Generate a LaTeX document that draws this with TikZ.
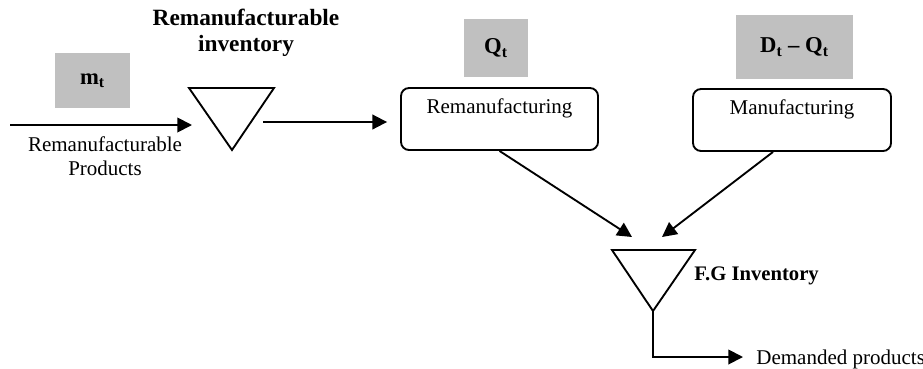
\documentclass[tikz,border=0pt]{standalone}
\usepackage{fontspec}
\setmainfont{Liberation Serif}
\usetikzlibrary{arrows.meta}
\definecolor{boxgray}{RGB}{192,192,192}

\begin{document}
\begin{tikzpicture}[x=0.75pt, y=-0.75pt, >={Triangle[length=11pt,width=11pt]}, line width=1.4pt,
  txt/.style={font=\fontsize{15.75}{18}\selectfont},
  bold/.style={font=\fontsize{17.5}{19.5}\selectfont\bfseries},
  varbox/.style={fill=boxgray, inner sep=0pt, font=\fontsize{17}{20}\selectfont\bfseries},
  procbox/.style={draw, rounded corners=6pt, minimum width=147.75pt, minimum height=46.5pt, align=center, txt}]

  \useasboundingbox (0,0) rectangle (923,368);

  % Variable boxes
  \node[varbox, minimum width=56.25pt, minimum height=41.25pt] (mt) at (92.5,80.5) {m\textsubscript{t}};
  \node[varbox, minimum width=48pt, minimum height=43.5pt] (qt) at (496,48) {Q\textsubscript{t}};
  \node[varbox, minimum width=87.75pt, minimum height=48pt] (dq) at (794.5,47) {D\textsubscript{t} – Q\textsubscript{t}};

  % Processes
  \node[procbox] (reman) at (499.5,119) {Remanufacturing\\[2pt] \mbox{}};
  \node[procbox, minimum width=148.5pt] (manu) at (792,120) {Manufacturing\\[2pt] \mbox{}};

  % Inventories
  \coordinate (ri1) at (189,88);
  \coordinate (ri2) at (274,88);
  \coordinate (ri3) at (232,150);
  \draw[line join=miter] (ri1) -- (ri2) -- (ri3) -- cycle;
  \coordinate (fg1) at (612,250);
  \coordinate (fg2) at (695,250);
  \coordinate (fg3) at (653,311);
  \draw[line join=miter] (fg1) -- (fg2) -- (fg3) -- cycle;

  % Labels
  \node[bold, align=center] (rinvlbl) at (246,33) {Remanufacturable\\inventory};
  \node[font=\fontsize{15.5}{18}\selectfont\bfseries, anchor=base west] (fglbl) at (689,280) {F.G Inventory};
  \node[txt, align=center] (rplbl) at (105,156) {Remanufacturable\\Products};

  % Flows
  \coordinate (src) at (10,125);
  \coordinate (srcend) at (192,125);
  \draw[->] (src) -- (srcend);
  \coordinate (rout) at (263,122);
  \draw[->, shorten >=9.75pt] (rout) -- (reman.west |- rout);
  \coordinate (fgL) at (632,237);
  \coordinate (fgR) at (662,237);
  \draw[->] (reman.south) -- (fgL);
  \draw[->] ([xshift=-14.25pt]manu.south) -- (fgR);
  \coordinate (dem) at (743,357);
  \draw[->] (fg3) |- (dem);
  \node[txt, anchor=base west] (demlbl) at (751,364) {Demanded products};

\end{tikzpicture}
\end{document}
